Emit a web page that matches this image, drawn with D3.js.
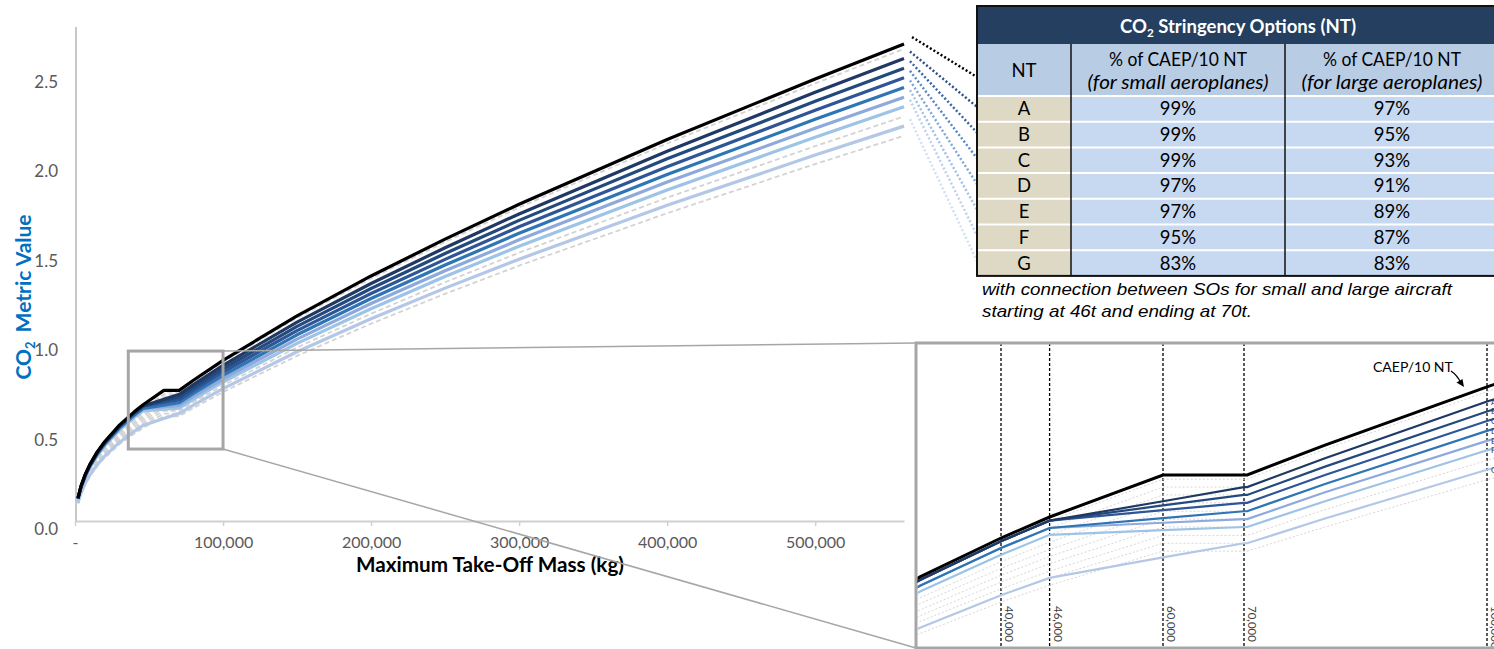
<!DOCTYPE html>
<html>
<head>
<meta charset="utf-8">
<script src="https://cdn.jsdelivr.net/npm/d3@7"></script>
<style>
  body { margin: 0; background: #fff; }
  svg { display: block; }
</style>
</head>
<body>
<svg id="chart" width="1494" height="649"></svg>
<script>
// Maximum take-off mass sample points (kg)
const massKg = [2000, 4000, 7000, 10000, 15000, 20000, 30000, 40000, 46000, 60000, 70000, 70395,
                80000, 100000, 150000, 200000, 250000, 300000, 400000, 500000, 560000];

// CAEP/10 new-type CO2 metric value limit
const caep10NT = [0.162, 0.227, 0.296, 0.349, 0.420, 0.477, 0.570, 0.644, 0.684, 0.764, 0.764, 0.764,
                  0.821, 0.932, 1.181, 1.404, 1.610, 1.805, 2.167, 2.506, 2.701];

// Stringency options A–G (small-aeroplane % up to 46 t, large-aeroplane % from 70 t)
const ntA = [0.160, 0.225, 0.293, 0.346, 0.416, 0.472, 0.564, 0.638, 0.677, 0.714, 0.741, 0.741,
             0.796, 0.904, 1.146, 1.362, 1.562, 1.751, 2.102, 2.431, 2.620];
const ntB = [0.160, 0.225, 0.293, 0.346, 0.416, 0.472, 0.564, 0.638, 0.677, 0.706, 0.726, 0.726,
             0.780, 0.885, 1.122, 1.334, 1.530, 1.715, 2.059, 2.381, 2.566];
const ntC = [0.160, 0.225, 0.293, 0.346, 0.416, 0.472, 0.564, 0.638, 0.677, 0.697, 0.711, 0.711,
             0.764, 0.867, 1.098, 1.306, 1.497, 1.679, 2.015, 2.331, 2.512];
const ntD = [0.157, 0.220, 0.287, 0.339, 0.407, 0.463, 0.553, 0.625, 0.663, 0.682, 0.695, 0.695,
             0.747, 0.848, 1.075, 1.278, 1.465, 1.643, 1.972, 2.280, 2.458];
const ntE = [0.157, 0.220, 0.287, 0.339, 0.407, 0.463, 0.553, 0.625, 0.663, 0.673, 0.680, 0.680,
             0.731, 0.829, 1.051, 1.250, 1.433, 1.606, 1.929, 2.230, 2.404];
const ntF = [0.154, 0.216, 0.281, 0.332, 0.399, 0.453, 0.542, 0.612, 0.650, 0.659, 0.665, 0.665,
             0.714, 0.811, 1.027, 1.221, 1.401, 1.570, 1.885, 2.180, 2.350];
const ntG = [0.134, 0.188, 0.246, 0.290, 0.349, 0.396, 0.473, 0.535, 0.568, 0.607, 0.634, 0.634,
             0.681, 0.774, 0.980, 1.165, 1.336, 1.498, 1.799, 2.080, 2.242];

// Constant-percentage reference curves (99 % … 81 % of CAEP/10 NT)
const ref99 = [0.160, 0.225, 0.293, 0.346, 0.416, 0.472, 0.564, 0.638, 0.677, 0.756, 0.756, 0.756,
               0.813, 0.923, 1.169, 1.390, 1.594, 1.787, 2.145, 2.481, 2.674];
const ref97 = [0.157, 0.220, 0.287, 0.339, 0.407, 0.463, 0.553, 0.625, 0.663, 0.741, 0.741, 0.741,
               0.796, 0.904, 1.146, 1.362, 1.562, 1.751, 2.102, 2.431, 2.620];
const ref95 = [0.154, 0.216, 0.281, 0.332, 0.399, 0.453, 0.542, 0.612, 0.650, 0.726, 0.726, 0.726,
               0.780, 0.885, 1.122, 1.334, 1.530, 1.715, 2.059, 2.381, 2.566];
const ref93 = [0.151, 0.211, 0.275, 0.325, 0.391, 0.444, 0.530, 0.599, 0.636, 0.711, 0.711, 0.711,
               0.764, 0.867, 1.098, 1.306, 1.497, 1.679, 2.015, 2.331, 2.512];
const ref91 = [0.147, 0.207, 0.269, 0.318, 0.382, 0.434, 0.519, 0.586, 0.622, 0.695, 0.695, 0.695,
               0.747, 0.848, 1.075, 1.278, 1.465, 1.643, 1.972, 2.280, 2.458];
const ref89 = [0.144, 0.202, 0.263, 0.311, 0.374, 0.425, 0.507, 0.573, 0.609, 0.680, 0.680, 0.680,
               0.731, 0.829, 1.051, 1.250, 1.433, 1.606, 1.929, 2.230, 2.404];
const ref87 = [0.141, 0.197, 0.258, 0.304, 0.365, 0.415, 0.496, 0.560, 0.595, 0.665, 0.665, 0.665,
               0.714, 0.811, 1.027, 1.221, 1.401, 1.570, 1.885, 2.180, 2.350];
const ref85 = [0.138, 0.193, 0.252, 0.297, 0.357, 0.405, 0.485, 0.547, 0.581, 0.649, 0.649, 0.649,
               0.698, 0.792, 1.004, 1.193, 1.369, 1.534, 1.842, 2.130, 2.296];
const ref83 = [0.134, 0.188, 0.246, 0.290, 0.349, 0.396, 0.473, 0.535, 0.568, 0.634, 0.634, 0.634,
               0.681, 0.774, 0.980, 1.165, 1.336, 1.498, 1.799, 2.080, 2.242];
const ref81 = [0.131, 0.184, 0.240, 0.283, 0.340, 0.386, 0.462, 0.522, 0.554, 0.619, 0.619, 0.619,
               0.665, 0.755, 0.957, 1.137, 1.304, 1.462, 1.755, 2.030, 2.188];

// Axis ticks
const yTicks = [0, 0.5, 1.0, 1.5, 2.0, 2.5];
const xTicks = [0, 100000, 200000, 300000, 400000, 500000];
const insetMarks = [40000, 46000, 60000, 70000, 100000];

// Stringency option table
const ntLetters = ["A", "B", "C", "D", "E", "F", "G"];
const smallPct = ["99%", "99%", "99%", "97%", "97%", "95%", "83%"];
const largePct = ["97%", "95%", "93%", "91%", "89%", "87%", "83%"];

// ---- drawing ------------------------------------------------------------
const svg = d3.select("#chart");
svg.append("rect").attr("width", 1494).attr("height", 649).attr("fill", "#fff");

const options = [ntA, ntB, ntC, ntD, ntE, ntF, ntG];
const refs = [ref99, ref97, ref95, ref93, ref91, ref89, ref87, ref85, ref83, ref81];
const optColor = ["#1F3864", "#234A7C", "#2F5597", "#2E75B6", "#8EA9DB", "#9DC3E6", "#B4C7E7"];
const leaderColor = ["#2F4F86", "#3C64A0", "#5A88C4", "#7FA6D8", "#A3BFE6", "#BCD1EE", "#D3E0F4"];
const tickFont = "Lato, 'Open Sans', sans-serif";

// Main chart scales
const x = d3.scaleLinear().domain([0, 560000]).range([75, 904]);
const y = d3.scaleLinear().domain([0, 2.5]).range([527, 80]);
const mainLine = d3.line().x((d, i) => x(massKg[i])).y(d => y(d));

const main = svg.append("g");

// axes
main.append("line").attr("x1", 76).attr("x2", 76).attr("y1", 27).attr("y2", 521)
  .attr("stroke", "#C8C8C8").attr("stroke-width", 2);

const xAxis = main.append("g").attr("transform", "translate(0,521)")
  .call(d3.axisBottom(x).tickValues(xTicks).tickSize(5).tickSizeOuter(0)
    .tickFormat(d => d === 0 ? "-" : d3.format(",")(d)));
xAxis.select(".domain").attr("stroke", "#D0D0D0").attr("stroke-width", 2);
xAxis.selectAll(".tick line").attr("stroke", "#D0D0D0").attr("stroke-width", 1.5);
xAxis.selectAll(".tick text").attr("y", 16).attr("fill", "#595959")
  .style("font-family", tickFont).style("font-size", "16px");

const yAxis = main.append("g").attr("transform", "translate(76,2)")
  .call(d3.axisLeft(y).tickValues(yTicks).tickSize(0).tickPadding(18).tickFormat(d3.format(".1f")));
yAxis.select(".domain").remove();
yAxis.selectAll(".tick text").attr("fill", "#595959")
  .style("font-family", tickFont).style("font-size", "17px");

// axis titles
const yTitle = main.append("text").attr("transform", "translate(31,297) rotate(-90)")
  .attr("text-anchor", "middle").attr("fill", "#0070C0")
  .style("font-family", tickFont).style("font-size", "21px").style("font-weight", "bold");
yTitle.append("tspan").text("CO");
yTitle.append("tspan").text("2").style("font-size", "13px").attr("dy", 4);
yTitle.append("tspan").text(" Metric Value").attr("dy", -4).attr("dx", 4);

main.append("text").attr("x", 356).attr("y", 572).text("Maximum Take-Off Mass (kg)")
  .attr("fill", "#000").attr("textLength", 268).attr("lengthAdjust", "spacingAndGlyphs")
  .style("font-family", tickFont).style("font-size", "20px").style("font-weight", "bold");

// reference curves
main.selectAll("path.ref").data(refs).join("path").attr("class", "ref")
  .attr("d", mainLine).attr("fill", "none")
  .attr("stroke", "#D3D3D3").attr("stroke-width", 1.8).attr("stroke-dasharray", "5,3");

// option curves
main.selectAll("path.opt").data(options.slice().reverse()).join("path").attr("class", "opt")
  .attr("d", mainLine).attr("fill", "none")
  .attr("stroke", (d, i) => optColor[options.length - 1 - i]).attr("stroke-width", 3.2)
  .attr("stroke-linejoin", "round");

main.append("path").datum(caep10NT).attr("d", mainLine).attr("fill", "none")
  .attr("stroke", "#000").attr("stroke-width", 3.2).attr("stroke-linejoin", "round");

// zoom box on main chart
const zx0 = x(36000), zx1 = x(100000), zy0 = y(0.984), zy1 = y(0.436);
main.append("rect").attr("x", zx0).attr("y", zy0).attr("width", zx1 - zx0).attr("height", zy1 - zy0)
  .attr("fill", "none").attr("stroke", "#A6A6A6").attr("stroke-width", 3);

// Inset geometry
const inset = { left: 916, top: 343, right: 1500, bottom: 648 };
main.append("line").attr("x1", zx1).attr("y1", zy0).attr("x2", inset.left).attr("y2", inset.top)
  .attr("stroke", "#A6A6A6").attr("stroke-width", 1.5);
main.append("line").attr("x1", zx1).attr("y1", zy1).attr("x2", inset.left).attr("y2", inset.bottom)
  .attr("stroke", "#A6A6A6").attr("stroke-width", 1.5);

// ---- leader lines to the table ------------------------------------------
const table = { left: 977, right: 1499, top: 6, titleBottom: 44, headBottom: 96, rowH: 25.7 };
const cols = [977, 1071, 1285, 1499];
const rowMid = i => table.headBottom + table.rowH * (i + 0.5);

const leaders = svg.append("g").attr("fill", "none").attr("stroke-width", 2.5)
  .attr("stroke-dasharray", "2,2.2");
leaders.append("line").attr("x1", x(560000) + 8).attr("y1", y(caep10NT[caep10NT.length - 1]) - 7)
  .attr("x2", table.left).attr("y2", 77).attr("stroke", "#000");
options.forEach((s, i) => {
  leaders.append("line").attr("x1", x(560000) + 6).attr("y1", y(s[s.length - 1]) - 7)
    .attr("x2", table.left).attr("y2", rowMid(i) - 2).attr("stroke", leaderColor[i]);
});

// ---- table ----------------------------------------------------------------
const tg = svg.append("g").style("font-family", tickFont);
tg.append("rect").attr("x", table.left).attr("y", table.top)
  .attr("width", table.right - table.left).attr("height", table.titleBottom - table.top).attr("fill", "#243F60");
tg.append("rect").attr("x", table.left).attr("y", table.titleBottom)
  .attr("width", table.right - table.left).attr("height", table.headBottom - table.titleBottom).attr("fill", "#B8CCE4");
ntLetters.forEach((L, i) => {
  const ry = table.headBottom + table.rowH * i;
  tg.append("rect").attr("x", cols[0]).attr("y", ry).attr("width", cols[1] - cols[0]).attr("height", table.rowH)
    .attr("fill", "#DDD9C4");
  tg.append("rect").attr("x", cols[1]).attr("y", ry).attr("width", cols[3] - cols[1]).attr("height", table.rowH)
    .attr("fill", "#C6D9F1");
  tg.append("line").attr("x1", table.left).attr("x2", table.right).attr("y1", ry).attr("y2", ry)
    .attr("stroke", "#fff").attr("stroke-width", 2);
  const t = (cx, s) => tg.append("text").attr("x", cx).attr("y", rowMid(i) + 6.5).attr("text-anchor", "middle")
    .attr("fill", "#000").style("font-size", "18.5px").text(s);
  t((cols[0] + cols[1]) / 2, L);
  t((cols[1] + cols[2]) / 2, smallPct[i]);
  t((cols[2] + cols[3]) / 2, largePct[i]);
});
[cols[1], cols[2]].forEach(cx => {
  tg.append("line").attr("x1", cx).attr("x2", cx).attr("y1", table.titleBottom)
    .attr("y2", table.headBottom + table.rowH * 7).attr("stroke", "#111").attr("stroke-width", 1.5);
});
tg.append("rect").attr("x", table.left).attr("y", table.top)
  .attr("width", table.right - table.left).attr("height", table.headBottom + table.rowH * 7 - table.top)
  .attr("fill", "none").attr("stroke", "#111").attr("stroke-width", 2);

const title = tg.append("text").attr("x", (table.left + table.right) / 2).attr("y", 33)
  .attr("text-anchor", "middle").attr("fill", "#fff").style("font-size", "19px").style("font-weight", "bold")
  .attr("textLength", 236).attr("lengthAdjust", "spacingAndGlyphs");
title.append("tspan").text("CO");
title.append("tspan").text("2").style("font-size", "12px").attr("dy", 4);
title.append("tspan").text(" Stringency Options (NT)").attr("dy", -4);

tg.append("text").attr("x", (cols[0] + cols[1]) / 2).attr("y", 77).attr("text-anchor", "middle")
  .style("font-size", "18.5px").attr("fill", "#000").text("NT");
[["(for small aeroplanes)", (cols[1] + cols[2]) / 2], ["(for large aeroplanes)", (cols[2] + cols[3]) / 2]]
  .forEach(([sub, cx]) => {
    tg.append("text").attr("x", cx).attr("y", 66).attr("text-anchor", "middle")
      .style("font-size", "18.5px").attr("fill", "#000")
      .attr("textLength", 138).attr("lengthAdjust", "spacingAndGlyphs").text("% of CAEP/10 NT");
    tg.append("text").attr("x", cx).attr("y", 89).attr("text-anchor", "middle")
      .style("font-size", "18.5px").style("font-style", "italic").attr("fill", "#000")
      .attr("textLength", 181).attr("lengthAdjust", "spacingAndGlyphs").text(sub);
  });

const note = svg.append("g").style("font-family", "'Liberation Sans', Arial, sans-serif")
  .style("font-style", "italic").style("font-size", "16.5px").attr("fill", "#000");
note.append("text").attr("x", 982).attr("y", 295).attr("textLength", 470).attr("lengthAdjust", "spacingAndGlyphs")
  .text("with connection between SOs for small and large aircraft");
note.append("text").attr("x", 982).attr("y", 317).attr("textLength", 270).attr("lengthAdjust", "spacingAndGlyphs")
  .text("starting at 46t and ending at 70t.");

// ---- inset ------------------------------------------------------------------
const xi = d3.scaleLinear().domain([30000, 100000]).range([920, 1487]);
const yi = d3.scaleLinear().domain([0.5, 1.0]).range([613.6, 351.1]);
const insetLine = d3.line().x((d, i) => xi(massKg[i])).y(d => yi(d));

svg.append("defs").append("clipPath").attr("id", "insetClip").append("rect")
  .attr("x", inset.left + 1.5).attr("y", inset.top + 1.5)
  .attr("width", inset.right - inset.left).attr("height", inset.bottom - inset.top - 3);

const ig = svg.append("g");
ig.append("rect").attr("x", inset.left).attr("y", inset.top)
  .attr("width", inset.right - inset.left).attr("height", inset.bottom - inset.top)
  .attr("fill", "#fff").attr("stroke", "#A6A6A6").attr("stroke-width", 3);

const ic = ig.append("g").attr("clip-path", "url(#insetClip)");
ic.selectAll("line.mark").data(insetMarks).join("line").attr("class", "mark")
  .attr("x1", d => xi(d)).attr("x2", d => xi(d)).attr("y1", inset.top).attr("y2", inset.bottom)
  .attr("stroke", "#000").attr("stroke-width", 1.3).attr("stroke-dasharray", "3,2");
ic.selectAll("text.mark").data(insetMarks).join("text").attr("class", "mark")
  .attr("transform", d => `translate(${xi(d) + 4},606) rotate(90)`)
  .attr("fill", "#404040").style("font-family", tickFont).style("font-size", "11.5px")
  .text(d => d3.format(",")(d));

ic.selectAll("path.ref").data(refs).join("path").attr("class", "ref")
  .attr("d", insetLine).attr("fill", "none")
  .attr("stroke", "#D6D6D6").attr("stroke-width", 1).attr("stroke-dasharray", "2,2");
ic.selectAll("path.opt").data(options.slice().reverse()).join("path").attr("class", "opt")
  .attr("d", insetLine).attr("fill", "none")
  .attr("stroke", (d, i) => optColor[options.length - 1 - i]).attr("stroke-width", 2.2);
ic.append("path").datum(caep10NT).attr("d", insetLine).attr("fill", "none")
  .attr("stroke", "#000").attr("stroke-width", 3);

// option letters at the 100 t end of the inset (mostly beyond the frame edge)
const i100 = massKg.indexOf(100000);
ic.selectAll("text.letter").data(options).join("text").attr("class", "letter")
  .attr("x", xi(100000) + 4).attr("y", d => yi(d[i100]) + 3)
  .style("font-family", tickFont).style("font-size", "8px").attr("fill", "#404040")
  .text((d, i) => ntLetters[i]);

// CAEP/10 NT callout
ic.append("text").attr("x", 1373).attr("y", 372).text("CAEP/10 NT")
  .style("font-family", tickFont).style("font-size", "14px").attr("fill", "#000");
ic.append("path").attr("d", "M1451,371 Q1457,375 1461,383").attr("fill", "none")
  .attr("stroke", "#000").attr("stroke-width", 1.3);
ic.append("path").attr("d", "M1464,387 L1456.5,382.5 L1462.5,379 Z").attr("fill", "#000");
</script>
</body>
</html>
